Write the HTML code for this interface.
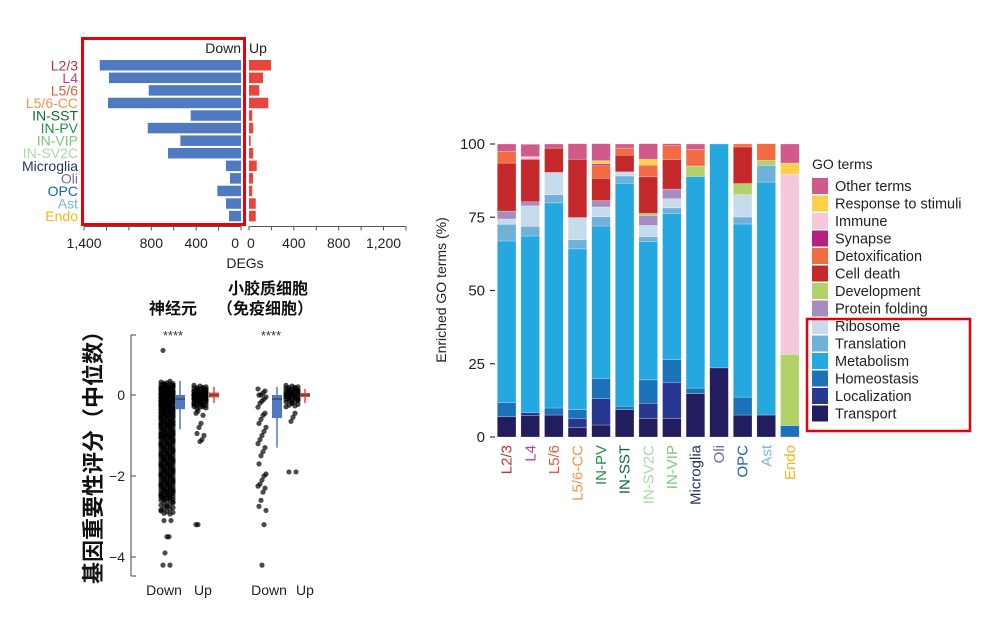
<!DOCTYPE html>
<html><head><meta charset="utf-8"><style>
html,body{margin:0;padding:0;background:#fff;}
svg{display:block;font-family:"Liberation Sans","Noto Sans CJK SC",sans-serif;}
</style></head><body>
<svg id="fig" width="990" height="619" viewBox="0 0 990 619" xmlns="http://www.w3.org/2000/svg">
<g id="degs"></g>
<g id="strip"></g>
<g id="go"></g>
</svg>
<script>
// ---------- DEG chart data ----------
const cellTypes = ["L2/3","L4","L5/6","L5/6-CC","IN-SST","IN-PV","IN-VIP","IN-SV2C","Microglia","Oli","OPC","Ast","Endo"];
const cellColors = ["#b8333a","#c03ca0","#e4583e","#f4934f","#0f6a3a","#219048","#7bc87a","#a9d9a3","#26336b","#8063b0","#1f5fa8","#79b6e0","#f8b60f"];
const downDEGs = [1260,1178,823,1186,449,832,541,651,134,98,211,134,107];
const upDEGs = [196,125,92,172,29,38,15,38,69,36,29,60,60];
const downTicks = [1400,800,400,0];
const upTicks = [0,400,800,1200];

// ---------- strip plot data ----------
const neuronDown = [1.1,0.3,0.25,0.2,0.2,0.15,0.1,0.1,0.05,0,0,0,-0.05,-0.05,-0.1,-0.1,-0.15,-0.15,-0.2,-0.2,-0.25,-0.3,-0.3,-0.35,-0.4,-0.4,-0.45,-0.5,-0.5,-0.55,-0.6,-0.65,-0.7,-0.7,-0.75,-0.8,-0.85,-0.9,-0.95,-1.0,-1.0,-1.05,-1.1,-1.15,-1.2,-1.25,-1.3,-1.35,-1.4,-1.45,-1.5,-1.55,-1.6,-1.65,-1.7,-1.75,-1.8,-1.85,-1.9,-1.95,-2.0,-2.05,-2.1,-2.15,-2.2,-2.25,-2.3,-2.35,-2.4,-2.45,-2.5,-2.55,-2.6,-2.7,-2.8,-2.9,-3.1,-3.1,-3.5,-3.5,-3.9,-4.2,-4.2];
const neuronUp = [0.2,0.15,0.1,0.1,0.05,0.05,0,0,0,-0.05,-0.05,-0.1,-0.1,-0.15,-0.2,-0.25,-0.3,-0.4,-0.45,-0.5,-0.7,-0.8,-0.95,-1.0,-1.1,-1.15,-3.2,-3.2];
const microDown = [0.15,0.1,0.05,0,0,-0.05,-0.1,-0.15,-0.2,-0.3,-0.45,-0.5,-0.6,-0.7,-0.8,-0.9,-1.0,-1.1,-1.2,-1.3,-1.4,-1.5,-1.7,-1.95,-2.0,-2.1,-2.2,-2.25,-2.3,-2.4,-2.6,-2.75,-2.85,-3.2,-4.2];
const microUp = [0.2,0.15,0.1,0.05,0,0,-0.05,-0.1,-0.15,-0.25,-0.45,-0.55,-0.65,-1.9,-1.9];
// box stats: [whiskerHigh, q3, median, q1, whiskerLow]
const boxNeuronDown = [0.35,0,-0.1,-0.35,-0.85];
const boxNeuronUp = [0.2,0.06,0,-0.06,-0.2];
const boxMicroDown = [0.2,0,-0.1,-0.57,-1.3];
const boxMicroUp = [0.15,0.05,0,-0.05,-0.2];
const stripTicks = [0,-2,-4];

// ---------- GO stacked data ----------
const goCells = ["L2/3","L4","L5/6","L5/6-CC","IN-PV","IN-SST","IN-SV2C","IN-VIP","Microglia","Oli","OPC","Ast","Endo"];
const goCellColors = ["#b8333a","#c03ca0","#e4583e","#f4934f","#219048","#0f6a3a","#a9d9a3","#7bc87a","#26336b","#8063b0","#1f5fa8","#79b6e0","#f8b60f"];
const goTerms = ["Transport","Localization","Homeostasis","Metabolism","Translation","Ribosome","Protein folding","Development","Cell death","Detoxification","Synapse","Immune","Response to stimuli","Other terms"];
const goTermColors = ["#211d5e","#283891","#1a72b8","#25a7df","#6fb1d9","#c6dcec","#a88bbf","#b2d16a","#c4282b","#f26b43","#b5207a","#f6c8dc","#fdd04a","#d05a8c"];
const transport = [6.9,7.3,7.5,3.2,4.1,9.3,6.3,6.3,14.8,23.6,7.5,7.5,0];
const localization = [0,1.0,0,3.1,9.0,0,5.2,12.3,0,0,0,0,0];
const homeostasis = [4.8,0,2.4,3.0,6.9,1.2,8.0,7.8,1.9,0,6.1,0,3.9];
const metabolism = [55.2,60.3,70,54.9,52,76.1,47.2,49.8,72.2,76.4,59.1,79.5,0];
const translation = [5.7,3.3,2.8,3.1,3.2,2.5,1.7,2.0,0,0,2.4,5.7,0];
const ribosome = [1.8,7.0,7.6,7.6,3.3,1.4,3.8,3.1,0,0,7.6,0,0];
const proteinFolding = [2.7,1.4,0,0,2.2,0,3.4,3.3,0,0,0,0,0];
const development = [0,0,0,0,0,0,0.7,0,3.6,0,3.8,1.7,24.3];
const cellDeath = [16.4,14.5,8.3,19.9,7.6,5.7,12.5,10.1,0,0,12.5,0,0];
const detox = [3.9,0,0,0,4.3,2.4,4.0,4.7,5.6,0,1.0,5.7,0];
const synapse = [0,0,0,0,0.6,0,0,0,0,0,0,0,0];
const immune = [0,0.9,0,0,0,0,0,0,0,0,0,0,61.4];
const response = [0,0,0,0,1.1,0,2.0,0,0,0,0,0,3.9];
const other = [2.6,4.2,1.4,5.3,5.8,1.4,5.3,0.7,1.9,0,0,0,6.5];
const goSeries = [transport,localization,homeostasis,metabolism,translation,ribosome,proteinFolding,development,cellDeath,detox,synapse,immune,response,other];
const goTicks = [0,25,50,75,100];

const NS = "http://www.w3.org/2000/svg";
function mk(parent, tag, attrs, text){
  const el = document.createElementNS(NS, tag);
  for (const k in attrs) el.setAttribute(k, attrs[k]);
  if (text !== undefined) el.textContent = text;
  parent.appendChild(el);
  return el;
}

// ===== DEG chart =====
(function(){
  const g = document.getElementById('degs');
  const k = 0.1121;
  const downX = v => 241 - v*k;
  const upX = v => 249 + v*k;
  const rowY = i => 60 + i*12.57;
  const bh = 10.5;
  cellTypes.forEach((c,i)=>{
    const t = mk(g,'text',{x:78,y:rowY(i)+bh/2+5,'text-anchor':'end','font-size':14,fill:cellColors[i]},c);
    
    
    const d = mk(g,'rect',{x:downX(downDEGs[i]),y:rowY(i),width:downX(0)-downX(downDEGs[i]),height:bh,fill:'#4f7ac0'});
    
    
    const u = mk(g,'rect',{x:upX(0),y:rowY(i),width:Math.max(1,upX(upDEGs[i])-upX(0)),height:bh,fill:'#e8453c'});
    
    
  });
  const ay = 226.5;
  const a1 = mk(g,'line',{x1:downX(1400),x2:downX(0),y1:ay,y2:ay,stroke:'#555','stroke-width':1});
  
  
  const a2 = mk(g,'line',{x1:upX(0),x2:upX(1400),y1:ay,y2:ay,stroke:'#555','stroke-width':1});
  
  
  for(let v=0; v<=1400; v+=200){
    mk(g,'line',{x1:downX(v),x2:downX(v),y1:ay,y2:ay+4,stroke:'#555'});
    mk(g,'line',{x1:upX(v),x2:upX(v),y1:ay,y2:ay+4,stroke:'#555'});
  }
  downTicks.forEach(v=>{
    const t = mk(g,'text',{x:downX(v)+(v===0?-2:0),y:248,'text-anchor':v===0?'end':'middle','font-size':14,fill:'#222'},v.toLocaleString('en-US'));
    
    
  });
  upTicks.forEach(v=>{
    const t = mk(g,'text',{x:upX(v)+(v===0?-2:0),y:248,'text-anchor':v===0?'start':'middle','font-size':14,fill:'#222'},v.toLocaleString('en-US'));
    
    
  });
  const xt = mk(g,'text',{x:245,y:268,'text-anchor':'middle','font-size':14,fill:'#222'},'DEGs');
  
  
  const dn = mk(g,'text',{x:241,y:53,'text-anchor':'end','font-size':14,fill:'#222'},'Down');
  
  
  const up = mk(g,'text',{x:249,y:53,'font-size':14,fill:'#222'},'Up');
  
  
  const hb = mk(g,'rect',{x:82.5,y:38.5,width:162,height:186,fill:'none',stroke:'#e8000b','stroke-width':3});
  
  
})();

// ===== strip plot =====
(function(){
  const g = document.getElementById('strip');
  const Y = v => 395 - v*40.5;
  const ax = mk(g,'line',{x1:131,x2:131,y1:335,y2:576,stroke:'#444'});
  
  
  mk(g,'line',{x1:131,x2:136,y1:335,y2:335,stroke:'#444'});
  mk(g,'line',{x1:131,x2:136,y1:576,y2:576,stroke:'#444'});
  stripTicks.forEach(v=>{
    mk(g,'line',{x1:131,x2:136,y1:Y(v),y2:Y(v),stroke:'#444'});
    const t = mk(g,'text',{x:125,y:Y(v)+5,'text-anchor':'end','font-size':14,fill:'#222'},v===0?'0':'\u2212'+Math.abs(v));
    
    
  });
  const yt = mk(g,'text',{x:0,y:0,transform:'translate(101,452) rotate(-90)','text-anchor':'middle','font-size':22,'font-weight':'bold',fill:'#111'},'基因重要性评分（中位数）');
  
  
  function dots(vals, cx, lo, hi, name){
    vals.forEach((v,i)=>{
      const dense = (lo !== null && v > lo && v < hi);
      const offs = dense ? [-6,-3,0,3,6] : [((i*7)%9)-4];
      offs.forEach((o,m)=>{
        const dy = dense ? ((m*3+i)%5-2)*0.8 : 0;
        const c = mk(g,'circle',{cx:cx+o,cy:Y(v)+dy,r:2.6,fill:'rgba(0,0,0,0.7)'});
        
        
      });
    });
  }
  function box(s, cx, w, col, name){
    mk(g,'line',{x1:cx,x2:cx,y1:Y(s[0]),y2:Y(s[4]),stroke:col,'stroke-width':1.5});
    const r = mk(g,'rect',{x:cx-w/2,y:Y(s[1]),width:w,height:Math.max(1.5,Y(s[3])-Y(s[1])),fill:col});
    
    
    mk(g,'line',{x1:cx-w/2,x2:cx+w/2,y1:Y(s[2]),y2:Y(s[2]),stroke:'#333','stroke-width':1});
  }
  dots(neuronDown,167,-2.95,0.35,'neuron-down-point');
  box(boxNeuronDown,180,10,'#4f7ac0','neuron-down-box');
  dots(neuronUp,200,-0.35,0.35,'neuron-up-point');
  box(boxNeuronUp,214,10,'#e8453c','neuron-up-box');
  dots(microDown,262,null,null,'microglia-down-point');
  box(boxMicroDown,277,10,'#4f7ac0','microglia-down-box');
  dots(microUp,292,-0.3,0.35,'microglia-up-point');
  box(boxMicroUp,305,10,'#e8453c','microglia-up-box');
  const labs = [['神经元',173,308],['小胶质细胞',268,288],['（免疫细胞）',265,308]];
  labs.forEach(l=>{
    const t = mk(g,'text',{x:l[1],y:l[2]+6,'text-anchor':'middle','font-size':16,'font-weight':'bold',fill:'#111'},l[0]);
    
    
  });
  [[173,336],[271,336]].forEach(p=>{
    const t = mk(g,'text',{x:p[0],y:p[1]+4,'text-anchor':'middle','font-size':13,fill:'#333'},'****');
    
    
  });
  [['Down',164],['Up',203],['Down',269],['Up',305]].forEach(l=>{
    const t = mk(g,'text',{x:l[1],y:595,'text-anchor':'middle','font-size':14,fill:'#222'},l[0]);
    
    
  });
})();

// ===== GO stacked chart =====
(function(){
  const g = document.getElementById('go');
  const Y = v => 437 - v*2.93;
  const X = i => 497.3 + i*23.6;
  const bw = 18.7;
  goTicks.forEach(v=>{
    mk(g,'line',{x1:490,x2:495,y1:Y(v),y2:Y(v),stroke:'#333','stroke-width':1.2});
    const t = mk(g,'text',{x:485,y:Y(v)+5,'text-anchor':'end','font-size':15,fill:'#222'},String(v));
    
    
  });
  const yt = mk(g,'text',{x:0,y:0,transform:'translate(446,290) rotate(-90)','text-anchor':'middle','font-size':14,fill:'#222'},'Enriched GO terms (%)');
  
  
  goCells.forEach((c,i)=>{
    let acc = 0;
    goSeries.forEach((s,j)=>{
      const v = s[i];
      if (v <= 0) return;
      const r = mk(g,'rect',{x:X(i),y:Y(acc+v),width:bw,height:Y(acc)-Y(acc+v),fill:goTermColors[j],stroke:'rgba(255,255,255,0.5)','stroke-width':0.5});
      
      
      acc += v;
    });
    const t = mk(g,'text',{x:0,y:0,transform:`translate(${X(i)+bw/2+5},445) rotate(-90)`,'text-anchor':'end','font-size':15,fill:goCellColors[i]},c);
    
    
  });
  const lt = mk(g,'text',{x:812,y:169,'font-size':14,fill:'#222'},'GO terms');
  
  
  for(let k=0;k<goTerms.length;k++){
    const j = goTerms.length-1-k;
    const y = 178 + k*17.5;
    const sw = mk(g,'rect',{x:812,y:y,width:16,height:16,fill:goTermColors[j]});
    
    
    const t = mk(g,'text',{x:835,y:y+13,'font-size':14.5,fill:'#222'},goTerms[j]);
    
    
  }
  const hb = mk(g,'rect',{x:807,y:319,width:163,height:112,fill:'none',stroke:'#e8000b','stroke-width':2.5});
  
  
})();
</script>
</body></html>
